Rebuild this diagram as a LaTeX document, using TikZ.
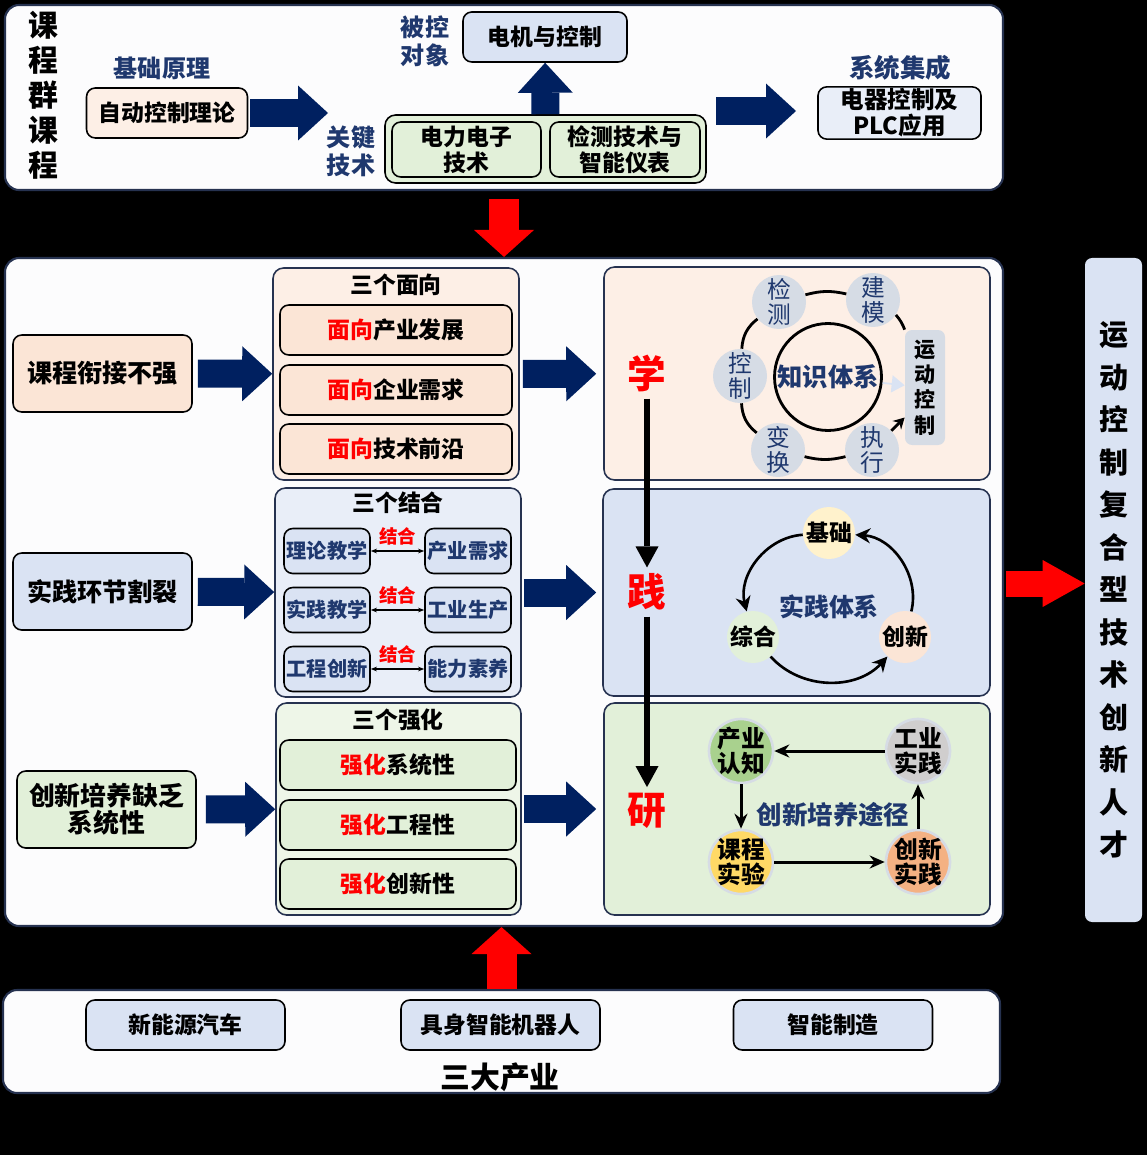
\documentclass[tikz,border=0pt]{standalone}
\usepackage{fontspec}
\setmainfont{Noto Sans CJK SC}
\usetikzlibrary{arrows.meta, positioning}
\definecolor{Navy}{RGB}{0,32,96}
\definecolor{Ink}{RGB}{31,56,110}
\definecolor{Edge}{RGB}{38,50,80}
\definecolor{Paper}{RGB}{252,252,253}
\definecolor{Peach}{RGB}{251,229,214}
\definecolor{Sky}{RGB}{218,227,243}
\definecolor{Mint}{RGB}{226,240,217}
\definecolor{Haze}{RGB}{214,220,229}
\definecolor{Cream}{RGB}{255,242,204}
\definecolor{Leaf}{RGB}{169,209,142}
\definecolor{Stone}{RGB}{208,206,206}
\definecolor{Gold}{RGB}{255,217,102}
\definecolor{Coral}{RGB}{244,177,131}
\definecolor{Hot}{RGB}{255,0,0}
\colorlet{PeachL}{Peach!60!white}
\colorlet{SkyL}{Sky!60!white}
\colorlet{MintL}{Mint!60!white}
\newcommand\px{0.02cm}
\newcommand\fsz[2]{\fontsize{#1}{#2}\selectfont}

\begin{document}
\begin{tikzpicture}[
  x=\px, y=-\px,
  sized/.style 2 args={minimum width=#1*\px, minimum height=#2*\px},
  panel/.style={draw=Edge, line width=1.2pt, fill=Paper, rounded corners=8pt, inner sep=0pt},
  grpbox/.style={draw=Edge, line width=0.9pt, fill=#1, rounded corners=6pt, inner sep=0pt},
  cbox/.style={draw=black, line width=0.9pt, fill=#1, rounded corners=5pt,
               align=center, inner sep=1pt, font=\bfseries\fsz{13}{15}},
  pairbox/.style={cbox=Sky, sized={86}{45}, text=Ink, font=\bfseries\fsz{11.5}{13}},
  lbl/.style={text=Ink, font=\bfseries\fsz{13.7}{16}, align=center},
  headtxt/.style={font=\bfseries\fsz{13}{15}},
  bigred/.style={text=Hot, font=\bfseries\fsz{22}{24}},
  tagred/.style={text=Hot, font=\bfseries\fsz{10.5}{12}, inner sep=1pt},
  topic/.style={circle, fill=Haze, minimum size=1.08cm, inner sep=0pt,
                label={[text=Ink, font=\fsz{13.5}{14.5}, align=center]center:#1}},
  stepdisc/.style={circle, fill=#1, minimum size=1.04cm, inner sep=0pt,
                   font=\bfseries\fsz{13}{15}},
  routedisc/.style 2 args={circle, fill=#1, draw=Haze, line width=1.5pt,
                minimum size=1.28cm, inner sep=0pt,
                label={[font=\bfseries\fsz{13.5}{14.5}, align=center]center:#2}},
  navarrow/.style={draw=Navy, line width=0.56cm,
                   -{Triangle[length=0.6cm, width=1.1cm, line width=0pt]}},
  redbar/.style={draw=Hot, line width=0.6cm,
                 -{Triangle[length=0.54cm, width=1.2cm, line width=0pt]}},
  redright/.style={draw=Hot, line width=0.52cm,
                   -{Triangle[length=0.84cm, width=0.94cm, line width=0pt]}},
  flowdown/.style={draw=black, line width=0.12cm,
                   -{Triangle[length=0.42cm, width=0.46cm, line width=0pt]}},
  knowring/.style={draw=black, line width=1.6pt},
  cycarrow/.style={draw=black, line width=1.5pt, -{Stealth[length=0.3cm, width=0.3cm]}},
  routeedge/.style={draw=black, line width=1.7pt, -{Stealth[length=0.3cm, width=0.26cm]}},
  linkarrow/.style={draw=black, line width=0.8pt, {Stealth[length=3.5pt]}-{Stealth[length=3.5pt]}}
]
\useasboundingbox (0,0) rectangle (1147,1155);
\fill[black] (0,0) rectangle (1147,1155);

%%课程群课程
\node[panel, sized={998}{185}] (toppanel) at (504,97.5) {};
\node[font=\bfseries\fsz{17}{19.9}, align=center] (kcq) at (43,95) {课\\程\\群\\课\\程};
\node[lbl] (jcyl) at (162,68) {基础原理};
\node[cbox=PeachL, sized={161}{50}] (zdkz) at (167,113) {自动控制理论};
\coordinate (gjin) at (328,113);
\draw[navarrow, shorten <=0.04cm] (zdkz) -- (gjin);
\node[lbl, font=\bfseries\fsz{13.7}{15.9}] (gjjs) at (351,151) {关键\\技术};
\node[grpbox=Mint, draw=black, sized={321}{68}] (gjbox) at (545.5,149) {};
\node[cbox=Mint, sized={149}{55}, font=\bfseries\fsz{13}{14.8}] (dldz) at (466.5,149.5) {电力电子\\技术};
\node[cbox=Mint, sized={150}{55}, font=\bfseries\fsz{13}{14.8}] (jcjs) at (625,149.5) {检测技术与\\智能仪表};
\node[lbl, font=\bfseries\fsz{13.7}{15.9}] (bkdx) at (425,41) {被控\\对象};
\node[cbox=Sky, sized={164}{50}] (djkz) at (545,37) {电机与控制};
\draw[navarrow] (gjbox) -- (djkz);
\coordinate (xtout) at (716,111);
\coordinate (xtin) at (796,111);
\draw[navarrow] (xtout) -- (xtin);
\node[lbl, font=\bfseries\fsz{14.5}{16}] (xtjc) at (900,68) {系统集成};
\node[cbox=SkyL, sized={163}{50}, font=\bfseries\fsz{13.4}{14.8}] (dqkz) at (899.5,113) {电器控制及\\PLC应用};

%% 中部
\node[panel, sized={998}{668}] (midpanel) at (504,592) {};
\draw[redbar, shorten <=0.16cm] (toppanel.south) -- (midpanel.north);

%% 学
\node[cbox=Peach, sized={179}{77}, font=\bfseries\fsz{14.3}{16}] (kcxj) at (102.5,373.5) {课程衔接不强};
\node[grpbox=PeachL, sized={246}{212}] (sgmx) at (396,374) {};
\node[headtxt] (sgmxt) at (396,285) {三个面向};
\node[cbox=Peach, sized={232}{50}] (mx1) at (396,330) {\textcolor{Hot}{面向}产业发展};
\node[cbox=Peach, sized={232}{50}] (mx2) at (396,390) {\textcolor{Hot}{面向}企业需求};
\node[cbox=Peach, sized={232}{50}] (mx3) at (396,449) {\textcolor{Hot}{面向}技术前沿};
\node[grpbox=PeachL, sized={386}{213}] (xuepanel) at (797,373.5) {};
\draw[navarrow, shorten <=0.1cm] (kcxj) -- (sgmx);
\draw[navarrow, shorten <=0.06cm, shorten >=0.14cm] (sgmx) -- (xuepanel);
\node[bigred] (xue) at (647,374) {学};
\node[circle, draw=black, line width=1.6pt, inner sep=0pt, minimum size=2.14cm,
      text=Ink, font=\bfseries\fsz{14.4}{16}] (zstx) at (828,377) {知识体系};
\node[topic={检\\测}] (jc) at (779,302) {};
\node[topic={建\\模}] (jm) at (873,300) {};
\node[topic={控\\制}] (kz) at (740,376) {};
\node[topic={变\\换}] (bh) at (778,450) {};
\node[topic={执\\行}] (zx) at (872,450) {};
\node[fill=Haze, rounded corners=4pt, sized={40}{115}, align=center,
      font=\bfseries\fsz{12}{14.5}] (ydkz) at (925,387.5) {运\\动\\控\\制};
\draw[knowring] (jc) to[bend left=14] (jm);
\draw[knowring] (jm) to[bend left=10] (ydkz.north west);
\draw[knowring, -{Stealth[length=0.22cm, width=0.24cm]}] (zx) -- ([yshift=-0.6cm]ydkz.west);
\draw[knowring] (zx) to[bend left=14] (bh);
\draw[knowring] (bh) to[bend left=24] (kz);
\draw[knowring] (kz) to[bend left=24] (jc);
\draw[draw=Sky, line width=1pt, -{Triangle[length=0.26cm, width=0.34cm]}] (zstx) -- (ydkz);

%% 践
\node[cbox=Sky, sized={179}{77}, font=\bfseries\fsz{14.3}{16}] (sjhj) at (102.5,591.5) {实践环节割裂};
\node[grpbox=SkyL, sized={246}{209}] (sgjh) at (398,592.5) {};
\node[headtxt] (sgjht) at (398,503) {三个结合};
\node[pairbox] (ll1) at (327,551) {理论教学};
\node[pairbox] (rr1) at (468,551) {产业需求};
\node[pairbox] (ll2) at (327,610) {实践教学};
\node[pairbox] (rr2) at (468,610) {工业生产};
\node[pairbox] (ll3) at (327,669) {工程创新};
\node[pairbox] (rr3) at (468,669) {能力素养};
\draw[linkarrow] (ll1) -- (rr1) node[midway, above=2pt, tagred] (jh1) {结合};
\draw[linkarrow] (ll2) -- (rr2) node[midway, above=2pt, tagred] (jh2) {结合};
\draw[linkarrow] (ll3) -- (rr3) node[midway, above=2pt, tagred] (jh3) {结合};
\node[grpbox=Sky, sized={387}{207}] (jianpanel) at (796.5,592.5) {};
\draw[navarrow, shorten <=0.1cm] (sjhj) -- (sgjh);
\draw[navarrow, shorten <=0.04cm, shorten >=0.12cm] (sgjh) -- (jianpanel);
\node[bigred] (jian) at (647,592) {践};
\node[stepdisc=Cream] (jichu) at (829,533) {基础};
\node[stepdisc=Mint] (zonghe) at (753,637) {综合};
\node[stepdisc=Peach] (chuangxin) at (905,637) {创新};
\node[lbl, font=\bfseries\fsz{14.2}{16}] (sjtx) at (829,607) {实践体系};
\draw[cycarrow] (jichu) to[bend right=50] (zonghe);
\draw[cycarrow] (zonghe) to[bend right=48] (chuangxin);
\draw[cycarrow] (chuangxin) to[bend right=50] (jichu);

%% 研
\node[cbox=Mint, sized={179}{77}, font=\bfseries\fsz{14.7}{15.3}] (cxpy) at (106.5,809.5) {创新培养缺乏\\系统性};
\node[grpbox=MintL, sized={245}{212}] (sgqh) at (398.5,809) {};
\node[headtxt] (sgqht) at (398,720) {三个强化};
\node[cbox=Mint, sized={236}{50}] (qh1) at (398,765) {\textcolor{Hot}{强化}系统性};
\node[cbox=Mint, sized={236}{50}] (qh2) at (398,825) {\textcolor{Hot}{强化}工程性};
\node[cbox=Mint, sized={236}{50}] (qh3) at (398,884) {\textcolor{Hot}{强化}创新性};
\node[grpbox=Mint, sized={386}{212}] (yanpanel) at (797,809) {};
\draw[navarrow, shorten <=0.18cm] (cxpy) -- (sgqh);
\draw[navarrow, shorten <=0.04cm, shorten >=0.14cm] (sgqh) -- (yanpanel);
\node[bigred] (yan) at (647,811) {研};
\node[routedisc={Leaf}{产业\\认知}] (cyrz) at (741,751) {};
\node[routedisc={Stone}{工业\\实践}] (gysj) at (918,751) {};
\node[routedisc={Gold}{课程\\实验}] (kcsy) at (741,862) {};
\node[routedisc={Coral}{创新\\实践}] (cxsj) at (918,862) {};
\draw[routeedge] (gysj) -- (cyrz);
\draw[routeedge] (cyrz) -- (kcsy);
\draw[routeedge] (kcsy) -- (cxsj);
\draw[routeedge] (cxsj) -- (gysj);
\node[lbl, font=\bfseries\fsz{14.5}{16}] (cxtj) at (833,815) {创新培养途径};

%% 学 -> 践 -> 研
\draw[flowdown] (xue) -- (jian);
\draw[flowdown] (jian) -- (yan);

%% 人才
\node[fill=Sky, rounded corners=4pt, sized={57}{664}, align=center,
      font=\bfseries\fsz{16.5}{24.2}] (rcpanel) at (1113.5,590)
      {运\\动\\控\\制\\复\\合\\型\\技\\术\\创\\新\\人\\才};
\draw[redright, shorten <=0.04cm] ([yshift=0.17cm]midpanel.east) -- ([yshift=0.17cm]midpanel.east -| rcpanel.west);

%% 三大产业
\node[panel, sized={997}{103}] (btmpanel) at (501.5,1041.5) {};
\draw[redbar] (btmpanel.north) -- (btmpanel.north |- midpanel.south);
\node[cbox=Sky, sized={199}{50}] (xny) at (185.5,1025) {新能源汽车};
\node[cbox=Sky, sized={199}{50}] (jszn) at (500.5,1025) {具身智能机器人};
\node[cbox=Sky, sized={199}{50}] (znzz) at (833,1025) {智能制造};
\node[font=\bfseries\fsz{17}{19}] (sdcy) at (500,1077) {三大产业};

\end{tikzpicture}
\end{document}
